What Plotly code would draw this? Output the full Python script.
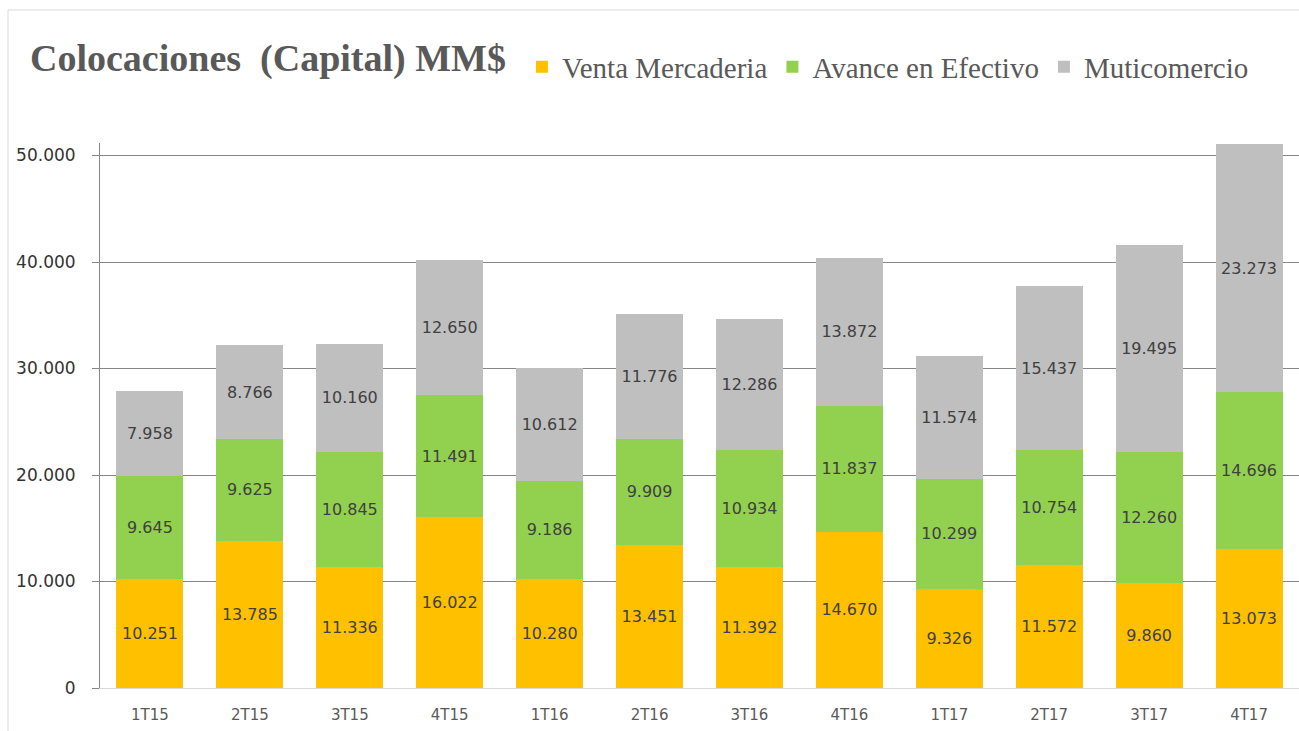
import plotly.graph_objects as go

categories = ["1T15", "2T15", "3T15", "4T15", "1T16", "2T16", "3T16", "4T16",
              "1T17", "2T17", "3T17", "4T17"]
venta_mercaderia = [10251, 13785, 11336, 16022, 10280, 13451, 11392, 14670,
                    9326, 11572, 9860, 13073]
avance_efectivo = [9645, 9625, 10845, 11491, 9186, 9909, 10934, 11837,
                   10299, 10754, 12260, 14696]
muticomercio = [7958, 8766, 10160, 12650, 10612, 11776, 12286, 13872,
                11574, 15437, 19495, 23273]
y_ticks = [0, 10000, 20000, 30000, 40000, 50000]

series = [
    ("Venta Mercaderia", venta_mercaderia, "#FFC000"),
    ("Avance en Efectivo", avance_efectivo, "#92D050"),
    ("Muticomercio", muticomercio, "#BFBFBF"),
]

fig = go.Figure()
for name, vals, color in series:
    fig.add_trace(go.Bar(
        x=categories, y=vals, name=name,
        marker=dict(color=color, line=dict(width=0)),
        texttemplate="%{y:,}", textposition="inside",
        insidetextanchor="middle", textangle=0,
        textfont=dict(family="DejaVu Sans", size=16, color="#404040"),
    ))

W, H = 1299, 731
L, R, T, B = 100, 0, 143, 43

fig.update_layout(
    width=W, height=H,
    barmode="stack", bargap=0.33,
    separators=",.",
    plot_bgcolor="white", paper_bgcolor="white",
    margin=dict(l=L, r=R, t=T, b=B, pad=0),
    title=dict(
        text="Colocaciones \u00a0(Capital) MM$",
        font=dict(family="Liberation Serif", size=38, color="#595959", weight="bold"),
        x=30 / W, xref="container", xanchor="left",
        y=1 - 58 / H, yref="container", yanchor="middle",
    ),
    legend=dict(
        orientation="h",
        xref="container", yref="container",
        x=522 / W, xanchor="left",
        y=1 - 67 / H, yanchor="middle",
        font=dict(family="Liberation Serif", size=29, color="#595959"),
        itemsizing="constant", traceorder="normal",
        bgcolor="rgba(0,0,0,0)",
    ),
    showlegend=True,
    uniformtext=dict(mode=False),
)

fig.update_yaxes(
    range=[0, 51174], tickvals=y_ticks, tickformat=",d",
    showgrid=True, gridcolor="#868686", gridwidth=1,
    showline=True, linecolor="#868686", linewidth=1,
    ticks="outside", ticklen=7, tickcolor="#868686",
    tickfont=dict(family="DejaVu Sans", size=17, color="#333333"),
    ticklabelstandoff=13, zeroline=False,
)
fig.update_xaxes(
    showline=True, linecolor="#D9D9D9", linewidth=1,
    ticks="", showgrid=False,
    tickfont=dict(family="DejaVu Sans", size=15, color="#595959"),
    ticklabelstandoff=13,
)

# outer chart border (top and left)
fig.add_shape(type="line", xref="paper", yref="paper",
              x0=(8 - L) / (W - L - R), x1=1.0,
              y0=(H - B - 10) / (H - T - B), y1=(H - B - 10) / (H - T - B),
              line=dict(color="#D9D9D9", width=1), layer="below")
fig.add_shape(type="line", xref="paper", yref="paper",
              x0=(8 - L) / (W - L - R), x1=(8 - L) / (W - L - R),
              y0=-B / (H - T - B), y1=(H - B - 10) / (H - T - B),
              line=dict(color="#D9D9D9", width=1), layer="below")

fig.write_html("out.html",
               config={"displayModeBar": False},
               post_script="document.body.style.margin='0px';document.body.style.overflow='hidden';")
